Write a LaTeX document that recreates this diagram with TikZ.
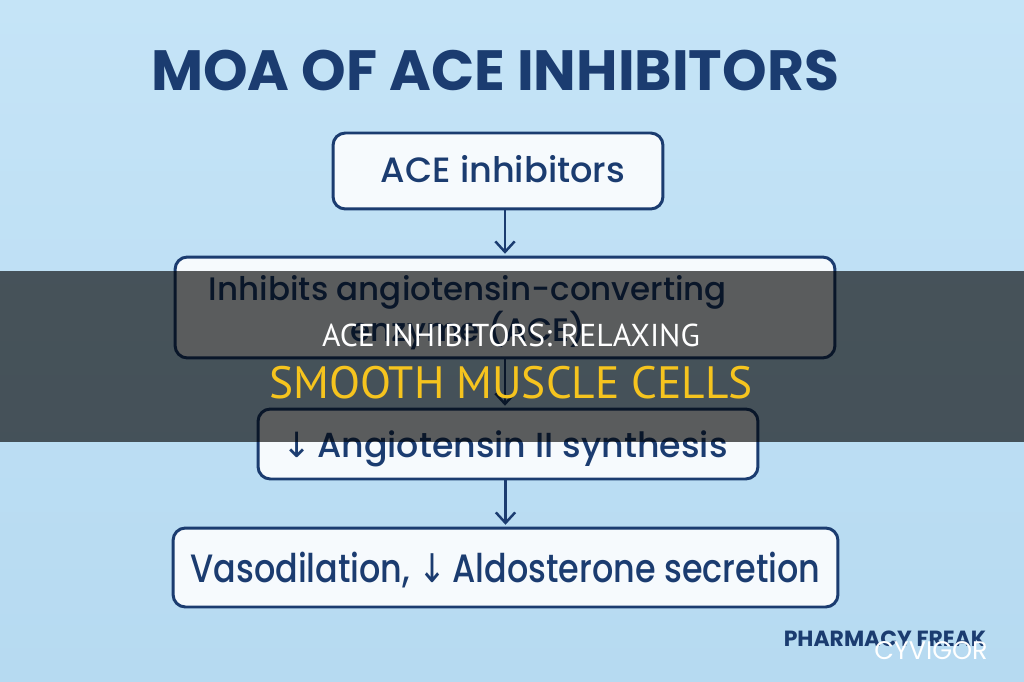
\documentclass[tikz,border=0pt]{standalone}
\usepackage{fontspec}
\setmainfont{Poppins}
\newfontfamily\medfont{Poppins Medium}
\newfontfamily\bannerfont{PT Sans}
\newfontfamily\symfont{DejaVu Sans}
\usetikzlibrary{arrows.meta,positioning}
\definecolor{navy}{RGB}{27,60,112}
\definecolor{skytop}{RGB}{197,228,247}
\definecolor{skybot}{RGB}{182,218,241}
\definecolor{boxfill}{RGB}{246,250,253}
\definecolor{gold}{RGB}{246,196,30}
\newcommand{\dnarrow}{{\symfont ↓}}

\begin{document}
\begin{tikzpicture}[x=0.02cm,y=-0.02cm]
  \tikzstyle{box}=[draw=navy,fill=boxfill,line width=1.7pt,rounded corners=7pt,inner sep=0pt]
  \tikzstyle{txt}=[anchor=base,inner sep=0pt,text=navy]
  \tikzstyle{flow}=[draw=navy,line width=1.4pt,shorten >=1pt,-{Straight Barb[length=6pt,width=11pt,line width=1.4pt]}]
  \shade[top color=skytop,bottom color=skybot] (0,0) rectangle (1024,682);
  \useasboundingbox (0,0) rectangle (1024,682);
  \node[txt,font=\fontsize{32.3}{36}\selectfont\bfseries] (title) at (495,91) {MOA OF ACE INHIBITORS};
  \node[box,minimum width=6.6cm,minimum height=1.52cm] (a) at (498,171) {};
  \node[box,minimum width=13.2cm,minimum height=2.02cm] (b) at (505,307.5) {};
  \node[box,minimum width=10cm,minimum height=1.4cm] (c) at (508,444) {};
  \node[box,minimum width=13.3cm,minimum height=1.58cm] (d) at (505.5,567.5) {};
  \node[txt,font=\medfont\fontsize{20}{24}\selectfont] (at) at (503,183) {ACE inhibitors};
  \node[inner sep=0pt,text=navy,align=center,font=\medfont\fontsize{18.5}{20.5}\selectfont] (bt) at (468,313) {Inhibits angiotensin-converting\\enzyme (ACE)};
  \node[txt,font=\medfont\fontsize{19.8}{24}\selectfont] (ct) at (505,457) {\dnarrow\,Angiotensin II synthesis};
  \node[txt,font=\medfont\fontsize{22.5}{24}\selectfont] (dt) at (505.5,582) {\scalebox{0.845}[1]{Vasodilation, \dnarrow\,Aldosterone secretion}};
  \draw[flow] (b.north |- a.south) -- (b.north);
  \draw[flow] (b.south) -- (b.south |- c.north);
  \draw[flow] (d.north |- c.south) -- (d.north);
  \node[txt,font=\fontsize{12.5}{14}\selectfont\bfseries] (pf) at (885,646) {PHARMACY FREAK};
  \fill[black,opacity=0.63] (0,271) rectangle (1024,442);
  \node[txt,text=white,font=\bannerfont\fontsize{18}{20}\selectfont] (h1) at (511,346) {ACE INHIBITORS: RELAXING};
  \node[txt,text=gold,font=\bannerfont\fontsize{25.8}{28}\selectfont] (h2) at (511,398) {SMOOTH MUSCLE CELLS};
  \node[txt,text=white,font=\fontsize{14.5}{16}\selectfont] (cv) at (931,659) {CYVIGOR};
\end{tikzpicture}
\end{document}
